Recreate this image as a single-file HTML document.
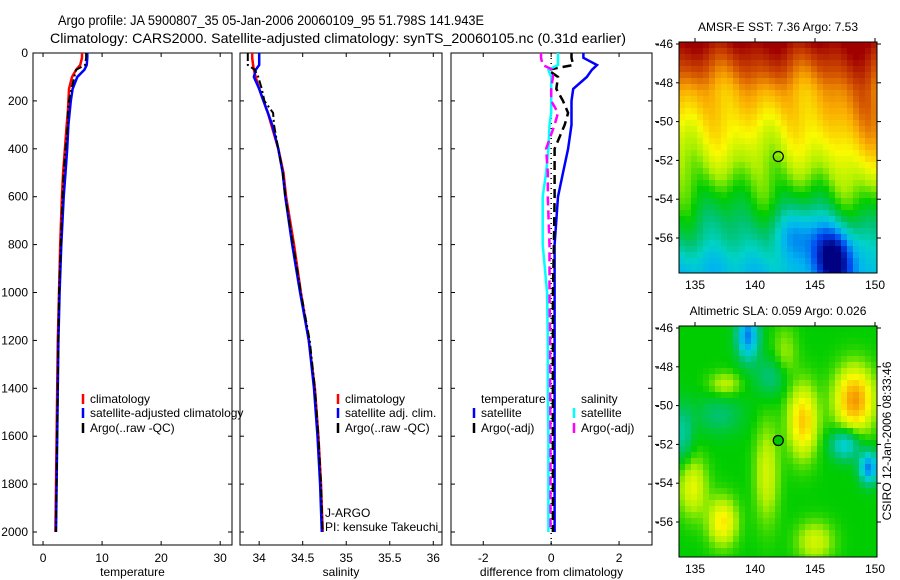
<!DOCTYPE html>
<html><head><meta charset="utf-8">
<style>
body{margin:0;background:#fff;}
svg{display:block;font-family:"Liberation Sans",sans-serif;}
</style></head>
<body>
<svg id="fig" width="900" height="580" viewBox="0 0 900 580">
<rect width="900" height="580" fill="#fff"/>
<text x="58" y="25" font-size="14" textLength="426" lengthAdjust="spacingAndGlyphs">Argo profile: JA 5900807_35 05-Jan-2006 20060109_95 51.798S 141.943E</text>
<text x="50" y="43" font-size="14" textLength="576" lengthAdjust="spacingAndGlyphs">Climatology: CARS2000. Satellite-adjusted climatology: synTS_20060105.nc (0.31d earlier)</text>
<g id="maps"></g>
<g id="panels"></g>
<text x="0" y="0" font-size="12" text-anchor="middle" transform="translate(891,441) rotate(-90)">CSIRO 12-Jan-2006 08:33:46</text>
</svg>
<script>
// ---- profile data ----
const depths = [0,20,50,70,100,150,200,250,300,400,500,600,800,1000,1200,1400,1600,1800,2000];
const tempClim = [6.6,6.6,6.3,5.6,4.9,4.4,4.3,4.2,4.0,3.7,3.4,3.2,2.9,2.7,2.5,2.4,2.3,2.2,2.1];
const tempSat = [7.5,7.5,7.4,7.0,5.8,5.0,4.7,4.5,4.3,4.1,3.8,3.5,3.1,2.8,2.6,2.5,2.4,2.3,2.2];
const tempArgo = [7.3,7.3,7.1,5.6,5.3,4.8,4.4,4.2,4.2,3.8,3.5,3.3,3.0,2.7,2.6,2.5,2.4,2.3,2.2];
const salClim = [33.92,33.92,33.93,33.94,33.96,34.0,34.05,34.1,34.14,34.22,34.28,34.31,34.4,34.48,34.57,34.64,34.68,34.71,34.73];
const salSat = [34.0,34.0,34.0,33.96,33.94,34.0,34.05,34.1,34.15,34.22,34.27,34.3,34.38,34.47,34.57,34.63,34.67,34.7,34.72];
const salArgo = [33.87,33.87,33.87,33.95,33.99,34.03,34.06,34.16,34.17,34.22,34.27,34.3,34.39,34.48,34.58,34.64,34.68,34.71,34.73];
const dTempSat = [0.95,0.95,1.35,1.2,1.05,0.65,0.6,0.6,0.6,0.5,0.35,0.2,0.1,0.1,0.1,0.1,0.1,0.1,0.1];
const dTempArgo = [0.6,0.6,0.65,-0.1,0.2,0.15,0.35,0.5,0.4,0.1,0.1,0.1,0.08,0.05,0.05,0.05,0.05,0.05,0.05];
const dSalSat = [0.2,0.2,0.2,-0.08,0,0,0,0,-0.05,-0.08,-0.15,-0.25,-0.25,-0.12,-0.1,-0.1,-0.08,-0.08,-0.08];
const dSalArgo = [-0.3,-0.3,-0.25,0.05,0.05,0.0,0.0,0.2,0.1,-0.15,-0.1,-0.1,-0.05,-0.05,-0.03,-0.03,-0.02,-0.02,-0.02];
const depthTicks = [0,200,400,600,800,1000,1200,1400,1600,1800,2000];
const tempTicks = [0,10,20,30];
const salTicks = ["34","34.5","35","35.5","36"];
const diffTicks = [-2,0,2];

const NS="http://www.w3.org/2000/svg";
function mk(tag, attrs, parent){const e=document.createElementNS(NS,tag);for(const k in attrs)e.setAttribute(k,attrs[k]);parent.appendChild(e);return e;}
const yD = d => 53 + d*0.2395;
const panelsG = document.getElementById('panels');

const panels = [
 {name:'temperature-panel', x0:33, x1:232, vmin:-1.7, vmax:32.0, ticks:tempTicks, label:'temperature'},
 {name:'salinity-panel', x0:240, x1:442, vmin:33.78, vmax:36.1, ticks:salTicks, label:'salinity'},
 {name:'difference-panel', x0:451, x1:652, vmin:-2.95, vmax:2.97, ticks:diffTicks, label:'difference from climatology'}
];
panels.forEach((p,i)=>{
  const g = mk('g',{},panelsG);
  
  
  p.sx = v => p.x0 + (v-p.vmin)/(p.vmax-p.vmin)*(p.x1-p.x0);
  p.g = g;
  const fr = mk('rect',{x:p.x0,y:53,width:p.x1-p.x0,height:492,fill:'none',stroke:'#000','stroke-width':1},g);
  
  
  p.ticks.forEach(t=>{
    const x=p.sx(+t);
    mk('line',{x1:x,y1:545,x2:x,y2:541,stroke:'#000'},g);
    mk('line',{x1:x,y1:53,x2:x,y2:57,stroke:'#000'},g);
    const tl = mk('text',{x:x,y:562,'font-size':12,'text-anchor':'middle'},g);
    tl.textContent = t;
    
    
  });
  depthTicks.forEach(d=>{
    const y=yD(d);
    mk('line',{x1:p.x0,y1:y,x2:p.x0+4,y2:y,stroke:'#000'},g);
    mk('line',{x1:p.x1,y1:y,x2:p.x1-4,y2:y,stroke:'#000'},g);
    if(i===0){
      const tl = mk('text',{x:28,y:y+4,'font-size':12,'text-anchor':'end'},g);
      tl.textContent = d;
      
      
    }
  });
  const xl = mk('text',{x:(p.x0+p.x1)/2,y:576,'font-size':12,'text-anchor':'middle'},g);
  xl.textContent = p.label;
  
  
});
function drawLine(p, vals, color, dash, name, w){
  const pts = vals.map((v,k)=>p.sx(v).toFixed(1)+','+yD(depths[k]).toFixed(1)).join(' ');
  const l = mk('polyline',{points:pts,fill:'none',stroke:color,'stroke-width':w||2.5},p.g);
  if(dash) l.setAttribute('stroke-dasharray',dash);
  
  
}
const P1=panels[0],P2=panels[1],P3=panels[2];
drawLine(P1,tempClim,'#ff0000',null,'temp-climatology-line');
drawLine(P1,tempSat,'#0000ff',null,'temp-satellite-line');
drawLine(P1,tempArgo,'#000',"8,3,2,3",'temp-argo-line',2);
drawLine(P2,salClim,'#ff0000',null,'sal-climatology-line');
drawLine(P2,salSat,'#0000ff',null,'sal-satellite-line');
drawLine(P2,salArgo,'#000',"8,3,2,3",'sal-argo-line',2);
const zl = mk('line',{x1:P3.sx(0),y1:53,x2:P3.sx(0),y2:545,stroke:'#000','stroke-dasharray':'1,4','stroke-width':1.5},P3.g);


drawLine(P3,dTempSat,'#0000ff',null,'diff-temp-satellite-line',2.5);
drawLine(P3,dTempArgo,'#000',"9,5",'diff-temp-argo-line',2.5);
drawLine(P3,dSalSat,'#00ffff',null,'diff-sal-satellite-line',2.5);
drawLine(P3,dSalArgo,'#ff00ff',"9,5",'diff-sal-argo-line',2.5);

function legend(g, x, y, color, text, name){
  if(color){
    const m = mk('line',{x1:x,y1:y-9,x2:x,y2:y+1,stroke:color,'stroke-width':2.5},g);
    
    
  }
  const t = mk('text',{x:x+7,y:y,'font-size':12},g);
  t.textContent = text;
  
  
}
legend(P1.g,83,403,'#ff0000','climatology','legend-entry-climatology');
legend(P1.g,83,417,'#0000ff','satellite-adjusted climatology','legend-entry-satellite');
legend(P1.g,83,432,'#000','Argo(..raw -QC)','legend-entry-argo');
legend(P2.g,338,403,'#ff0000','climatology','legend-entry-climatology');
legend(P2.g,338,417,'#0000ff','satellite adj. clim.','legend-entry-satellite');
legend(P2.g,338,432,'#000','Argo(..raw -QC)','legend-entry-argo');
legend(P3.g,474,403,null,'temperature','legend-header-temperature');
legend(P3.g,474,417,'#0000ff','satellite','legend-entry-temp-satellite');
legend(P3.g,474,432,'#000','Argo(-adj)','legend-entry-temp-argo');
legend(P3.g,574,403,null,'salinity','legend-header-salinity');
legend(P3.g,574,417,'#00ffff','satellite','legend-entry-sal-satellite');
legend(P3.g,574,432,'#ff00ff','Argo(-adj)','legend-entry-sal-argo');
const ja = mk('text',{x:325,y:517,'font-size':12},P2.g); ja.textContent='J-ARGO';
 
const pi = mk('text',{x:325,y:531,'font-size':12},P2.g); pi.textContent='PI: kensuke Takeuchi';
 

// ---- maps ----
const mapsG = document.getElementById('maps');
const stops = [[0,[0,0,130]],[0.15,[0,70,240]],[0.28,[0,180,240]],[0.36,[0,210,200]],[0.44,[0,195,110]],[0.52,[0,205,0]],[0.6,[170,240,0]],[0.68,[250,250,0]],[0.78,[250,170,0]],[0.88,[210,80,0]],[1,[160,0,0]]];
function cmap(v){
  v=Math.max(0,Math.min(1,v));
  for(let i=1;i<stops.length;i++){ if(v<=stops[i][0]){const a=stops[i-1][0],ca=stops[i-1][1],b=stops[i][0],cb=stops[i][1];const f=(v-a)/(b-a);
    return 'rgb('+ca.map((c,k)=>Math.round(c+(cb[k]-c)*f)).join(',')+')';}}
  return 'rgb(160,0,0)';
}
function G(lon,lat,lo,la,sx,sy){const a=(lon-lo)/sx, b=(lat-la)/sy; return Math.exp(-(a*a)-(b*b));}
function sst(lon,lat){
  const t=(lat+58)/12;
  let v=0.33+0.56*t+0.5*Math.max(0,t-0.8);
  v+=0.14*G(lon,lat,148.8,-50.5,2.0,2.8);
  v-=0.42*G(lon,lat,146.5,-57,1.8,1.6);
  v-=0.15*G(lon,lat,143.5,-55.8,2.2,1.3);
  v-=0.06*G(lon,lat,137,-57.5,3,1);
  v+=0.035*Math.sin(lon*0.9+0.5)*Math.cos(lat*0.8)+0.025*Math.sin(lon*1.9+lat*0.5);
  return v;
}
function sla(lon,lat){
  let v=0.52;
  v+=0.28*G(lon,lat,148.3,-49.7,1.6,1.6);
  v+=0.22*G(lon,lat,144,-50.8,1.2,1.8);
  v+=0.18*G(lon,lat,137.3,-56,1.2,1.2);
  v+=0.14*G(lon,lat,134.8,-54.2,1.2,1.5);
  v+=0.12*G(lon,lat,141,-53.5,1,2.5);
  v+=0.1*G(lon,lat,137.5,-48.9,1.3,0.6);
  v+=0.12*G(lon,lat,145,-57,1.5,1);
  v+=0.08*G(lon,lat,142.5,-47.5,1,1.5);
  v-=0.3*G(lon,lat,139.4,-46.4,0.9,1.2);
  v-=0.3*G(lon,lat,149.5,-53.2,0.8,0.8);
  v-=0.2*G(lon,lat,147.5,-52,1.2,0.8);
  v-=0.12*G(lon,lat,134,-51.5,0.8,1.5);
  v-=0.1*G(lon,lat,141.5,-48.5,1.5,1);
  v-=0.08*G(lon,lat,137,-50.5,2,1);
  return v;
}
function drawMap(name, top, title, field, fillMarker){
  const g = mk('g',{},mapsG);
  
  
  const x0=679,x1=877,y0=top,y1=top+231;
  const lx = lon=>695+(lon-135)*12;
  const ly = lat=>top+2+(-46-lat)*19.4;
  const cs=6;
  for(let y=y0;y<y1;y+=cs){for(let x=x0;x<x1;x+=cs){
    const lon=135+(x+cs/2-695)/12, lat=-46-(y+cs/2-top-2)/19.4;
    mk('rect',{x:x,y:y,width:Math.min(cs,x1-x)+0.3,height:Math.min(cs,y1-y)+0.3,fill:cmap(field(lon,lat))},g);
  }}
  mk('rect',{x:x0,y:y0,width:x1-x0,height:y1-y0,fill:'none',stroke:'#000'},g);
  [135,140,145,150].forEach(l=>{
    const x=lx(l);
    mk('line',{x1:x,y1:y0,x2:x,y2:y0-4,stroke:'#000'},g);
    const t=mk('text',{x:x,y:y1+16,'font-size':12,'text-anchor':'middle'},g); t.textContent=l;
     
  });
  [-46,-48,-50,-52,-54,-56].forEach(l=>{
    const y=ly(l);
    mk('line',{x1:x0,y1:y,x2:x0-3,y2:y,stroke:'#000'},g);
    mk('line',{x1:x1,y1:y,x2:x1+4,y2:y,stroke:'#000'},g);
    mk('line',{x1:655,y1:y,x2:659,y2:y,stroke:'#000'},g);
    const t=mk('text',{x:673,y:y+4,'font-size':12,'text-anchor':'end'},g); t.textContent=l;
     
  });
  const tt=mk('text',{x:778,y:top-11,'font-size':12,'text-anchor':'middle'},g); tt.textContent=title;
   
  const c=mk('circle',{cx:lx(141.94),cy:ly(-51.8),r:5,fill:fillMarker,stroke:'#000','stroke-width':1.2},g);
   
}
drawMap('sst-map',42,'AMSR-E SST: 7.36 Argo: 7.53',sst,'none');
drawMap('sla-map',326,'Altimetric SLA: 0.059 Argo: 0.026',sla,'#00c800');
</script>
</body></html>
